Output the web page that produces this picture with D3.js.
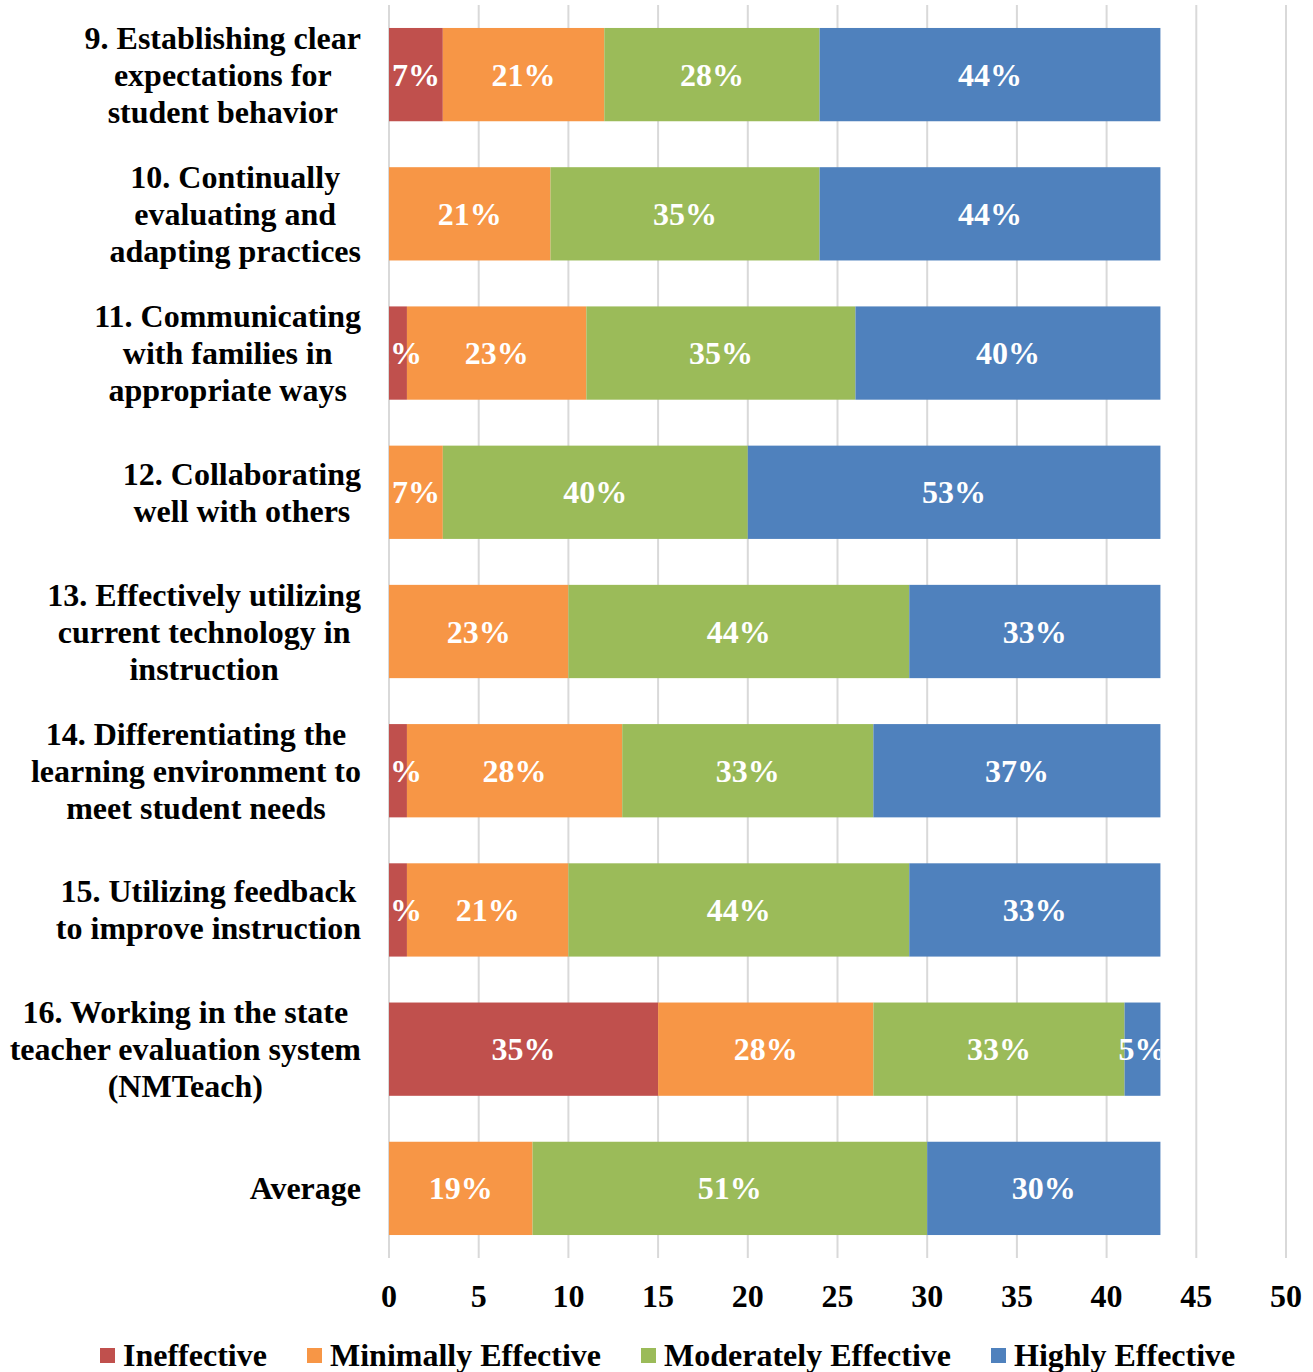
<!DOCTYPE html>
<html>
<head>
<meta charset="utf-8">
<script src="https://cdn.jsdelivr.net/npm/d3@7/dist/d3.min.js"></script>
<style>
  body { margin: 0; background: #fff; }
  svg text { font-family: "Liberation Serif", "Times New Roman", serif; font-weight: bold; }
</style>
</head>
<body>
<svg id="canvas" width="1313" height="1372"></svg>
<script>
let categories = [
    ['9. Establishing clear', 'expectations for', 'student behavior'],
    ['10. Continually', 'evaluating and', 'adapting practices'],
    ['11. Communicating', 'with families in', 'appropriate ways'],
    ['12. Collaborating', 'well with others'],
    ['13. Effectively utilizing', 'current technology in', 'instruction'],
    ['14. Differentiating the', 'learning environment to', 'meet student needs'],
    ['15. Utilizing feedback', 'to improve instruction'],
    ['16. Working in the state', 'teacher evaluation system', '(NMTeach)'],
    ['Average']
]

let seriesNames = ['Ineffective', 'Minimally Effective', 'Moderately Effective', 'Highly Effective']
let colors = ['#C0504D', '#F79646', '#9BBB59', '#4F81BD']

let ineffective = [3, 0, 1, 0, 0, 1, 1, 15, 0]
let minimally = [9, 9, 10, 3, 10, 12, 9, 12, 8]
let moderately = [12, 15, 15, 17, 19, 14, 19, 14, 22]
let highly = [19, 19, 17, 23, 14, 16, 14, 2, 13]

let xTicks = [0, 5, 10, 15, 20, 25, 30, 35, 40, 45, 50]

let canvas = d3.select('#canvas')

let plot = { left: 389, right: 1286, top: 5, bottom: 1258 }
let fontSize = 32

let rows = categories.map((c, i) => {
    let row = { key: i, lines: c }
    row[seriesNames[0]] = ineffective[i]
    row[seriesNames[1]] = minimally[i]
    row[seriesNames[2]] = moderately[i]
    row[seriesNames[3]] = highly[i]
    row.total = ineffective[i] + minimally[i] + moderately[i] + highly[i]
    return row
})

let xScale = d3.scaleLinear().domain([0, 50]).range([plot.left, plot.right])
let yScale = d3.scaleBand()
    .domain(rows.map(r => r.key))
    .range([plot.top, plot.bottom])
    .paddingInner(0.33)
    .paddingOuter(0.165)

// gridlines
canvas.append('g')
    .selectAll('line')
    .data(xTicks)
    .enter()
    .append('line')
    .attr('x1', d => xScale(d))
    .attr('x2', d => xScale(d))
    .attr('y1', plot.top)
    .attr('y2', plot.bottom)
    .attr('stroke', '#d9d9d9')
    .attr('stroke-width', 2)

// x tick labels
canvas.append('g')
    .selectAll('text')
    .data(xTicks)
    .enter()
    .append('text')
    .attr('x', d => xScale(d))
    .attr('y', 1307)
    .attr('text-anchor', 'middle')
    .attr('font-size', fontSize)
    .attr('fill', '#000')
    .text(d => d)

let stacked = d3.stack().keys(seriesNames)(rows)

// labels get cut at the ends of the bars
let maxTotal = d3.max(rows, r => r.total)
canvas.append('clipPath')
    .attr('id', 'labelClip')
    .append('rect')
    .attr('x', xScale(0))
    .attr('y', plot.top)
    .attr('width', xScale(maxTotal) - xScale(0))
    .attr('height', plot.bottom - plot.top)

let layers = canvas.selectAll('g.layer')
    .data(stacked)
    .enter()
    .append('g')
    .attr('class', 'layer')
    .attr('fill', (s, i) => colors[i])

layers.selectAll('rect')
    .data(s => s)
    .enter()
    .append('rect')
    .attr('x', d => xScale(d[0]))
    .attr('width', d => xScale(d[1]) - xScale(d[0]))
    .attr('y', d => yScale(d.data.key))
    .attr('height', yScale.bandwidth())

let labelGroup = canvas.append('g').attr('clip-path', 'url(#labelClip)')
stacked.forEach(s => {
    labelGroup.selectAll(null)
        .data(s.filter(d => d[1] - d[0] > 0))
        .enter()
        .append('text')
        .attr('x', d => (xScale(d[0]) + xScale(d[1])) / 2)
        .attr('y', d => yScale(d.data.key) + yScale.bandwidth() / 2 + 11)
        .attr('text-anchor', 'middle')
        .attr('font-size', fontSize)
        .attr('fill', '#fff')
        .text(d => Math.round((d[1] - d[0]) / d.data.total * 100) + '%')
})

// category labels (centered block, right edge at axis)
let labelRight = 361
let lineHeight = 37
rows.forEach(r => {
    let g = canvas.append('g')
    let texts = r.lines.map((line, j) => {
        return g.append('text')
            .attr('font-size', fontSize)
            .attr('fill', '#000')
            .attr('text-anchor', 'middle')
            .attr('y', yScale(r.key) + yScale.bandwidth() / 2 + 11 + (j - (r.lines.length - 1) / 2) * lineHeight)
            .text(line)
    })
    let maxW = d3.max(texts, t => t.node().getComputedTextLength())
    texts.forEach(t => t.attr('x', labelRight - maxW / 2))
})

// legend
let legendX = [100, 307, 641, 991]
let legend = canvas.append('g')
seriesNames.forEach((name, i) => {
    legend.append('rect')
        .attr('x', legendX[i])
        .attr('y', 1348)
        .attr('width', 15)
        .attr('height', 15)
        .attr('fill', colors[i])
    legend.append('text')
        .attr('x', legendX[i] + 23)
        .attr('y', 1366)
        .attr('font-size', fontSize)
        .attr('fill', '#000')
        .text(name)
})
</script>
</body>
</html>
